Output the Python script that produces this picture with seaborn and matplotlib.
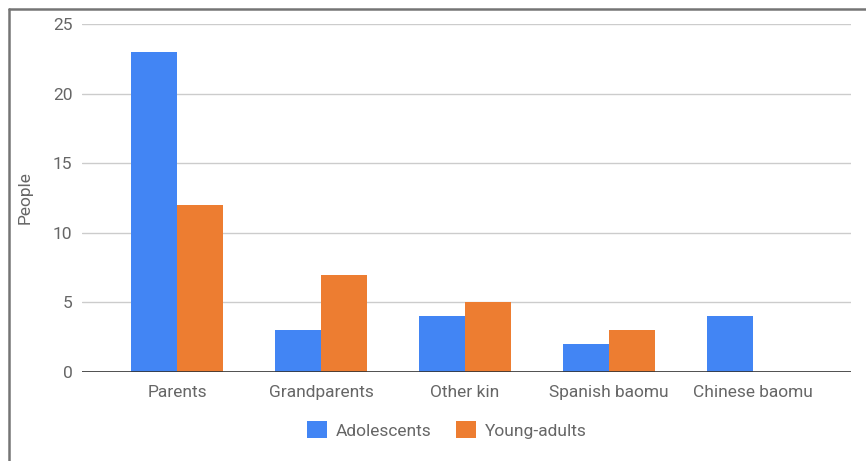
import matplotlib
matplotlib.use("Agg")
import matplotlib.pyplot as plt
from matplotlib.lines import Line2D
from matplotlib.patches import Patch
import seaborn as sns
import pandas as pd

categories = ["Parents", "Grandparents", "Other kin", "Spanish baomu", "Chinese baomu"]
adolescents = [23, 3, 4, 2, 4]
young_adults = [12, 7, 5, 3, 0]
series_names = ["Adolescents", "Young-adults"]
colors = ["#4285F4", "#ED7D31"]
y_ticks = [0, 5, 10, 15, 20, 25]

df = pd.DataFrame({
    "category": categories * 2,
    "group": [series_names[0]] * len(categories) + [series_names[1]] * len(categories),
    "people": adolescents + young_adults,
})

sns.set_theme(style="white")
plt.rcParams["font.family"] = ["Roboto", "DejaVu Sans"]

W, H = 866, 461
text_color = "#666666"
fig = plt.figure(figsize=(W / 100, H / 100), dpi=100)
ax = fig.add_axes([82 / W, 1 - 372 / H, (851 - 82) / W, (372 - 24) / H])

sns.barplot(data=df, x="category", y="people", hue="group", order=categories,
            hue_order=series_names, palette=colors, width=0.64, saturation=1,
            linewidth=0, ax=ax, legend=False, zorder=3)

ax.set_xlim(-0.66, 4.68)
ax.set_ylim(0, 25)
ax.set_yticks(y_ticks)
ax.grid(axis="y", color="#cccccc", linewidth=1, zorder=0)
for s in ["top", "right", "left", "bottom"]:
    ax.spines[s].set_visible(False)
ax.axhline(0, color="#333333", linewidth=1.2, zorder=4)

ax.tick_params(axis="both", length=0, labelsize=12.5, labelcolor=text_color)
ax.tick_params(axis="y", pad=7)
ax.tick_params(axis="x", pad=9)
ax.set_xlabel("")
ax.set_ylabel("People", fontsize=12.5, color=text_color)
ax.yaxis.set_label_coords((33 - 82) / (851 - 82), 0.5)

handles = [Patch(facecolor=c, edgecolor="none") for c in colors]
fig.legend(handles, series_names, loc="center", bbox_to_anchor=(447 / W, 1 - 430 / H),
           ncol=2, frameon=False, fontsize=12.5, labelcolor=text_color,
           handlelength=1.15, handleheight=1.1, handletextpad=0.5, columnspacing=1.4)

# outer frame on top and left
border = "#757575"
fig.add_artist(Line2D([8.5 / W, 8.5 / W], [0, 1 - 9.5 / H], color=border, linewidth=1.8,
                      transform=fig.transFigure))
fig.add_artist(Line2D([8.5 / W, 1], [1 - 9.5 / H, 1 - 9.5 / H], color=border, linewidth=1.8,
                      transform=fig.transFigure))

fig.savefig("out.png", dpi=100)
